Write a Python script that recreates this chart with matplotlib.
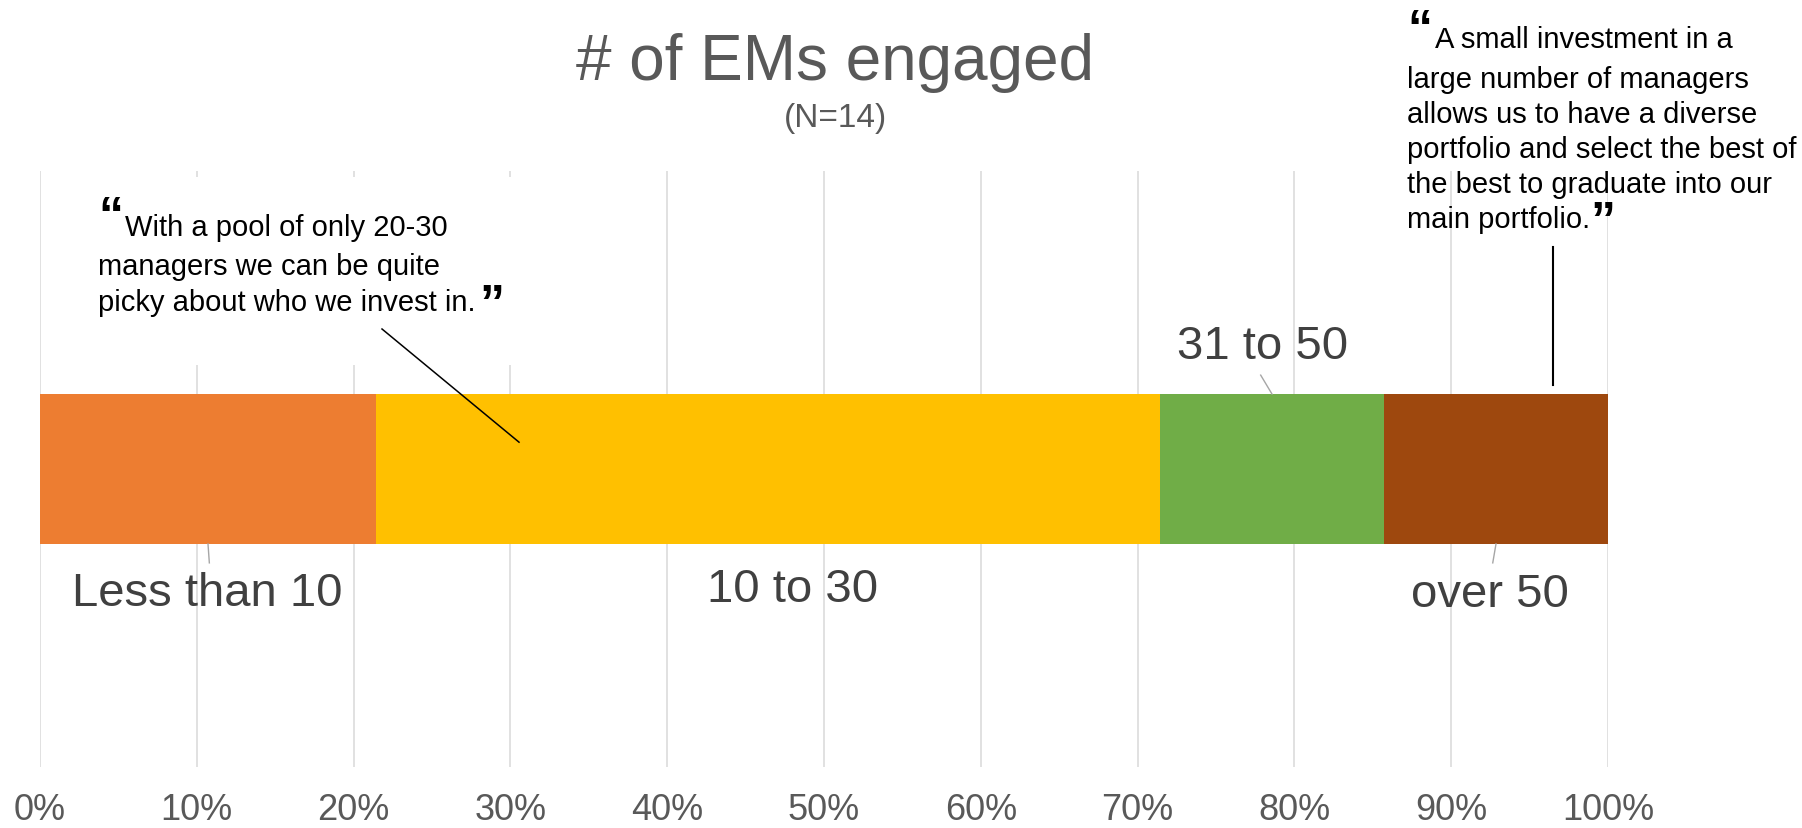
import numpy as np
import matplotlib
matplotlib.use('Agg')
import matplotlib.pyplot as plt
from matplotlib.patches import Rectangle
from matplotlib.lines import Line2D

plt.rcParams['font.family'] = ['Liberation Sans', 'DejaVu Sans']

# --- data: number of emerging managers engaged (N=14) ---
categories = ['Less than 10', '10 to 30', '31 to 50', 'over 50']
counts = [3, 7, 2, 2]
n_total = 14
colors = ['#ED7D31', '#FFC000', '#70AD47', '#9E480E']
ticks = np.arange(0, 1.01, 0.1)
tick_labels = [f'{int(round(t * 100))}%' for t in ticks]

quote_left = ['With a pool of only 20-30',
              'managers we can be quite',
              'picky about who we invest in.']
quote_right = ['A small investment in a',
               'large number of managers',
               'allows us to have a diverse',
               'portfolio and select the best of',
               'the best to graduate into our',
               'main portfolio.']

shares = np.array(counts) / n_total
lefts = np.concatenate([[0], np.cumsum(shares)[:-1]])
centers = lefts + shares / 2

# --- canvas ---
W, H = 1802, 829
fig = plt.figure(figsize=(W / 100, H / 100), dpi=100)


def fpx(x, y):
    # pixel position (from top-left) -> figure fraction
    return x / W, 1 - y / H


ax = fig.add_axes([40 / W, 1 - 768 / H, (1608 - 40) / W, (768 - 172) / H])

bar_h = 0.503
ax.barh(0, shares, left=lefts, height=bar_h, color=colors, zorder=2)

ax.set_xlim(0, 1)
ax.set_ylim(-1, 1)
ax.set_xticks(ticks)
ax.set_xticklabels(tick_labels)
ax.set_yticks([])
ax.grid(axis='x', color='#D9D9D9', lw=1.1, zorder=0)
ax.set_axisbelow(True)
for s in ax.spines.values():
    s.set_visible(False)
ax.tick_params(axis='x', length=0, pad=18, labelsize=26, labelcolor='#595959')

# --- category labels with thin leaders ---
label_x = [0.1065, 0.480, 0.780, 0.925]
label_y = [-0.416, -0.403, 0.413, -0.42]
for i, (name, lx, ly) in enumerate(zip(categories, label_x, label_y)):
    ax.text(lx, ly, name, ha='center', va='center', fontsize=34, color='#404040', zorder=4)
    if i == 1:
        continue
    sign = np.sign(ly)
    ax.plot([centers[i], lx - 0.0015 * sign], [sign * bar_h / 2, sign * 0.315],
            color='#A6A6A6', lw=1.0, zorder=3)

# --- title ---
fig.text(*fpx(835, 63), '# of EMs engaged', ha='center', va='center',
         fontsize=46, color='#595959')
fig.text(*fpx(835, 118), '(N=14)', ha='center', va='center',
         fontsize=24, color='#595959')

qkw = dict(fontsize=36, fontweight='bold', ha='left', va='center', zorder=2)
tkw = dict(fontsize=21, ha='left', va='center', zorder=2)

# --- left quote (white panel hides the gridlines behind it) ---
x0, y0 = fpx(90, 366)
x1, y1 = fpx(565, 178)
fig.add_artist(Rectangle((x0, y0), x1 - x0, y1 - y0, transform=fig.transFigure,
                         facecolor='white', edgecolor='none', zorder=1))
fig.text(*fpx(98, 219), '\u201c', **qkw)
fig.text(*fpx(125, 228), quote_left[0], **tkw)
fig.text(*fpx(98, 267), quote_left[1], **tkw)
fig.text(*fpx(98, 303), quote_left[2], **tkw)
fig.text(*fpx(479, 307), '\u201d', **qkw)

# leader from left quote into the 10-30 segment
lx0, ly0 = fpx(382, 330)
tx, ty = fig.transFigure.inverted().transform(ax.transData.transform((0.3055, 0.09)))
fig.add_artist(Line2D([lx0, tx], [ly0, ty], transform=fig.transFigure,
                      color='black', lw=1.1, zorder=3))

# --- right quote ---
fig.text(*fpx(1407, 32), '\u201c', **qkw)
fig.text(*fpx(1435, 40), quote_right[0], **tkw)
for k, line in enumerate(quote_right[1:]):
    fig.text(*fpx(1407, 80 + 35 * k), line, **tkw)
fig.text(*fpx(1590, 224), '\u201d', **qkw)

# vertical leader down to the over-50 segment
rx, ry = fig.transFigure.inverted().transform(ax.transData.transform((0.965, bar_h / 2)))
fig.add_artist(Line2D([rx, rx], [fpx(0, 248)[1], ry + 9 / H], transform=fig.transFigure,
                      color='black', lw=1.5, zorder=3))

fig.savefig('out.png', dpi=100)
